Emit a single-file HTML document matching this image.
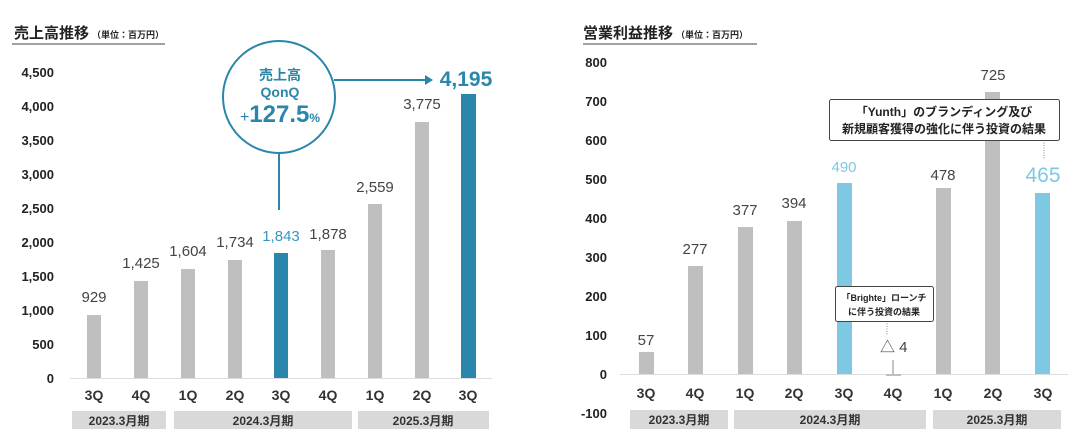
<!DOCTYPE html>
<html><head><meta charset="utf-8"><style>
body{margin:0;background:#fff;}
svg text{font-family:"Liberation Sans","Noto Sans CJK JP",sans-serif;}
</style></head><body>
<svg width="1080" height="439" viewBox="0 0 1080 439" xmlns="http://www.w3.org/2000/svg">
<!-- LEFT -->
<text x="14" y="38" font-size="15" font-weight="bold" fill="#222">売上高推移<tspan font-size="9" dx="3">（単位：百万円）</tspan></text>
<line x1="12" y1="44" x2="165" y2="44" stroke="#444" stroke-width="1"/>
<g font-size="13" font-weight="bold" fill="#222" text-anchor="end">
<text x="54" y="77">4,500</text><text x="54" y="111">4,000</text><text x="54" y="145">3,500</text>
<text x="54" y="179">3,000</text><text x="54" y="213">2,500</text><text x="54" y="247">2,000</text>
<text x="54" y="281">1,500</text><text x="54" y="315">1,000</text><text x="54" y="349">500</text>
<text x="54" y="383">0</text></g>
<line x1="70" y1="378.5" x2="492" y2="378.5" stroke="#ddd"/>
<g fill="#bfbfbf">
<rect x="87" y="315" width="14" height="63"/><rect x="134" y="281" width="14" height="97"/>
<rect x="181" y="269" width="14" height="109"/><rect x="228" y="260" width="14" height="118"/>
<rect x="321" y="250" width="14" height="128"/><rect x="368" y="204" width="14" height="174"/>
<rect x="415" y="122" width="14" height="256"/></g>
<g fill="#2a86aa"><rect x="274" y="253" width="14" height="125"/><rect x="461" y="94" width="15" height="284"/></g>
<g font-size="15" fill="#444" text-anchor="middle">
<text x="94" y="302">929</text><text x="141" y="268">1,425</text><text x="188" y="256">1,604</text>
<text x="235" y="247">1,734</text><text x="281" y="241" fill="#3a96c0">1,843</text><text x="328" y="239">1,878</text>
<text x="375" y="192">2,559</text><text x="422" y="109">3,775</text></g>
<text x="466" y="86" font-size="21" font-weight="bold" fill="#2a86aa" text-anchor="middle">4,195</text>
<circle cx="279" cy="97" r="56" fill="#fff" stroke="#2a86aa" stroke-width="2"/>
<line x1="279" y1="153" x2="279" y2="210" stroke="#2a86aa" stroke-width="2"/>
<line x1="334" y1="80" x2="425" y2="80" stroke="#2a86aa" stroke-width="2"/>
<polygon points="425,75 433,80 425,85" fill="#2a86aa"/>
<g fill="#2a86aa" text-anchor="middle" font-weight="bold">
<text x="280" y="80" font-size="14">売上高</text>
<text x="280" y="97" font-size="14">QonQ</text>
<text x="280" y="122" font-size="24"><tspan font-size="16" font-weight="normal">+</tspan>127.5<tspan font-size="12">%</tspan></text></g>
<g font-size="14" font-weight="bold" fill="#333" text-anchor="middle">
<text x="94" y="400">3Q</text><text x="141" y="400">4Q</text><text x="188" y="400">1Q</text>
<text x="235" y="400">2Q</text><text x="281" y="400">3Q</text><text x="328" y="400">4Q</text>
<text x="375" y="400">1Q</text><text x="422" y="400">2Q</text><text x="468" y="400">3Q</text></g>
<g fill="#d9d9d9"><rect x="72" y="411" width="94" height="18"/><rect x="174" y="411" width="178" height="18"/><rect x="358" y="411" width="131" height="18"/></g>
<g font-size="12" font-weight="bold" fill="#333" text-anchor="middle">
<text x="119" y="425">2023.3月期</text><text x="263" y="425">2024.3月期</text><text x="423" y="425">2025.3月期</text></g>

<!-- RIGHT -->
<text x="583" y="38" font-size="15" font-weight="bold" fill="#222">営業利益推移<tspan font-size="9" dx="3">（単位：百万円）</tspan></text>
<line x1="583" y1="44" x2="757" y2="44" stroke="#444" stroke-width="1"/>
<g font-size="13" font-weight="bold" fill="#222" text-anchor="end">
<text x="607" y="67">800</text><text x="607" y="106">700</text><text x="607" y="145">600</text>
<text x="607" y="184">500</text><text x="607" y="223">400</text><text x="607" y="262">300</text>
<text x="607" y="301">200</text><text x="607" y="340">100</text><text x="607" y="379">0</text>
<text x="607" y="418">-100</text></g>
<line x1="620" y1="374.5" x2="1068" y2="374.5" stroke="#ddd"/>
<g fill="#bfbfbf">
<rect x="639" y="352" width="15" height="22"/><rect x="688" y="266" width="15" height="108"/>
<rect x="738" y="227" width="15" height="147"/><rect x="787" y="221" width="15" height="153"/>
<rect x="886" y="374" width="15" height="2"/>
<rect x="936" y="188" width="15" height="186"/><rect x="985" y="92" width="15" height="282"/></g>
<g fill="#7ec8e3"><rect x="837" y="183" width="15" height="191"/><rect x="1035" y="193" width="15" height="181"/></g>
<g font-size="15" fill="#444" text-anchor="middle">
<text x="646" y="345">57</text><text x="695" y="254">277</text><text x="745" y="215">377</text>
<text x="794" y="208">394</text><text x="844" y="172" fill="#7ec8e3">490</text>
<text x="943" y="180">478</text><text x="993" y="80">725</text></g>
<text x="1043" y="182" font-size="21" fill="#7ec8e3" text-anchor="middle">465</text>
<line x1="893" y1="360" x2="893" y2="374" stroke="#888"/>
<text x="880" y="352" font-size="15" fill="#444">△ 4</text>
<line x1="887" y1="321" x2="887" y2="336" stroke="#888" stroke-dasharray="1,1.5"/>
<line x1="1044" y1="140" x2="1044" y2="160" stroke="#888" stroke-dasharray="1,1.5"/>
<rect x="829.5" y="99.5" width="230" height="41" rx="2" fill="#fff" stroke="#444"/>
<g font-size="12" font-weight="bold" fill="#222" text-anchor="middle">
<text x="944" y="116">「Yunth」のブランディング及び</text>
<text x="944" y="133">新規顧客獲得の強化に伴う投資の結果</text></g>
<rect x="835.5" y="286.5" width="98" height="35" rx="2" fill="#fff" stroke="#444"/>
<g font-size="9" font-weight="bold" fill="#222" text-anchor="middle">
<text x="884" y="301">「Brighte」ローンチ</text>
<text x="884" y="315">に伴う投資の結果</text></g>
<g font-size="14" font-weight="bold" fill="#333" text-anchor="middle">
<text x="646" y="398">3Q</text><text x="695" y="398">4Q</text><text x="745" y="398">1Q</text>
<text x="794" y="398">2Q</text><text x="844" y="398">3Q</text><text x="893" y="398">4Q</text>
<text x="943" y="398">1Q</text><text x="993" y="398">2Q</text><text x="1043" y="398">3Q</text></g>
<g fill="#d9d9d9"><rect x="630" y="410" width="98" height="19"/><rect x="734" y="410" width="192" height="19"/><rect x="933" y="410" width="128" height="19"/></g>
<g font-size="12" font-weight="bold" fill="#333" text-anchor="middle">
<text x="679" y="424">2023.3月期</text><text x="830" y="424">2024.3月期</text><text x="997" y="424">2025.3月期</text></g>
</svg>
</body></html>
